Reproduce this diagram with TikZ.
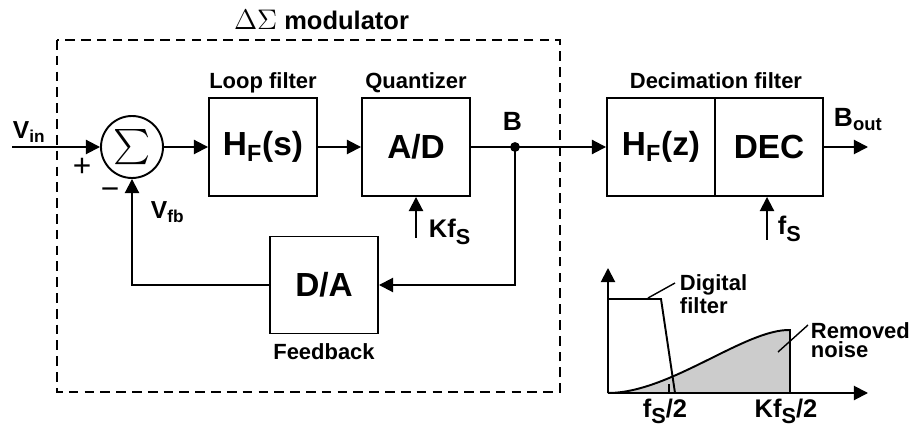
\documentclass[tikz,border=0pt]{standalone}
\usepackage{fontspec}
\setmainfont{Liberation Sans}
\usetikzlibrary{arrows.meta, positioning, calc}

\newcommand{\lsub}[1]{\raisebox{-0.45ex}{\scalebox{0.85}{#1}}}

\begin{document}
\begin{tikzpicture}[
    font=\bfseries,
    line width=1.1pt,
    blk/.style={rectangle, draw=black, line width=1.1pt, minimum width=2.16cm,
      minimum height=1.96cm, inner sep=0pt, font=\fontsize{19}{19}\selectfont\bfseries},
    sumnode/.style={circle, draw=black, line width=1.1pt, minimum size=1.24cm, inner sep=0pt},
    captxt/.style={font=\fontsize{12.5}{12.5}\selectfont\bfseries, inner sep=0pt},
    sig/.style={font=\fontsize{14}{14}\selectfont\bfseries, inner sep=0pt},
    clk/.style={font=\fontsize{14.5}{14.5}\selectfont\bfseries, inner sep=0pt},
    sgn/.style={font=\fontsize{18}{18}\selectfont, inner sep=0pt},
    arrow/.style={-{Triangle[length=8pt, width=8pt]}, line width=1.1pt},
    modbox/.style={draw=black, line width=1.1pt, dash pattern=on 5.5pt off 3.5pt},
    thinline/.style={line width=0.8pt},
  ]
  \useasboundingbox (0,0) rectangle (18.22,-8.64);

  % modulator
  \draw[modbox] (1.14,-0.80) rectangle (11.20,-7.84);
  \node[captxt, anchor=base, font=\fontsize{14.5}{14.5}\selectfont\bfseries] (title) at (6.43,-0.60)
    {\scalebox{1.12}{$\Delta\Sigma$} modulator};

  \node[sumnode] (sum) at (2.64,-2.94) {\scalebox{2}{$\sum$}};
  \node[blk] (hfs) at (5.26,-2.94) {H\textsubscript{F}(s)};
  \node[blk] (ad)  at (8.32,-2.94) {A/D};
  \node[blk, minimum height=1.94cm] (da) at (6.48,-5.70) {D/A};

  \node[captxt, anchor=base] (lfcap) at ($(hfs.north)+(0,0.18)$) {Loop filter};
  \node[captxt, anchor=base] (qcap)  at ($(ad.north)+(0,0.18)$) {Quantizer};
  \node[captxt, anchor=base] (fbcap) at ($(da.south)+(0,-0.50)$) {Feedback};

  % decimation filter
  \node[blk] (hfz) at (13.22,-2.94) {H\textsubscript{F}(z)};
  \node[blk] (dec) at (15.38,-2.94) {DEC};
  \node[captxt, anchor=base] (dfcap) at ($(hfz.north east)+(0,0.18)$) {Decimation filter};

  \coordinate (vinstart) at (0.24,-2.94);
  \coordinate (bdot) at (10.30,-2.94);
  \coordinate (bout) at (17.36,-2.94);
  \coordinate (kfsfoot) at (8.32,-4.76);
  \coordinate (fsfoot) at (15.34,-4.80);

  \draw[arrow] (vinstart) -- (sum);
  \draw[arrow] (sum) -- (hfs);
  \draw[arrow] (hfs) -- (ad);
  \draw[arrow] (ad) -- (hfz);
  \draw[arrow] (dec) -- (bout);
  \draw[arrow] (bdot) |- (da);
  \draw[arrow] (da) -| (sum);
  \draw[arrow] (kfsfoot) -- (ad);
  \draw[arrow] (fsfoot) -- (fsfoot |- dec.south);
  \fill (bdot) circle (2.8pt);

  \node[sig, anchor=base west] (vin)  at (0.24,-2.77) {V\textsubscript{in}};
  \node[sgn] (plus)  at (1.64,-3.34) {+};
  \node[sgn] (minus) at (2.20,-3.87) {−};
  \node[sig, anchor=base west] (vfb)  at (3.00,-4.38) {V\textsubscript{fb}};
  \node[sig, anchor=base, font=\fontsize{15}{15}\selectfont\bfseries] (blbl) at (10.25,-2.62) {B};
  \node[sig, anchor=base west, font=\fontsize{15}{15}\selectfont\bfseries] (boutlbl) at (16.66,-2.54) {B\textsubscript{out}};
  \node[clk, anchor=base west] (kfs) at (8.56,-4.76) {Kf\lsub{S}};
  \node[clk, anchor=base west] (fs)  at (15.54,-4.70) {f\lsub{S}};

  % spectrum
  \coordinate (org) at (12.16,-7.86);
  \fill[gray!40] (org) .. controls (13.4,-7.86) and (14.9,-6.58) .. (15.80,-6.60) -- (15.80,-7.86) -- cycle;
  \draw (org) .. controls (13.4,-7.86) and (14.9,-6.58) .. (15.80,-6.60) -- (15.80,-7.86);
  \draw (org) -- (12.16,-5.98) -- (13.22,-5.98) -- (13.50,-7.86);
  \draw (13.38,-7.86) -- (13.38,-7.68);
  \draw[arrow] (org) -- (12.16,-5.36);
  \draw[arrow] (org) -- (17.36,-7.86);

  \node[clk, anchor=base] (fhalf) at (13.30,-8.34) {f\lsub{S}/2};
  \node[clk, anchor=base] (kfhalf) at (15.72,-8.34) {Kf\lsub{S}/2};
  \node[captxt, anchor=west, align=left, font=\fontsize{12.5}{11.3}\selectfont\bfseries]
    (dflbl) at (13.58,-5.88) {Digital\\filter};
  \node[captxt, anchor=west, align=left, font=\fontsize{12.5}{10.6}\selectfont\bfseries]
    (rnlbl) at (16.20,-6.80) {Removed\\noise};
  \coordinate (dftip) at (13.50,-5.66);
  \coordinate (rntip) at (16.16,-6.50);
  \draw[thinline] (12.96,-5.96) -- (dftip);
  \draw[thinline] (15.56,-7.04) -- (rntip);
\end{tikzpicture}
\end{document}
